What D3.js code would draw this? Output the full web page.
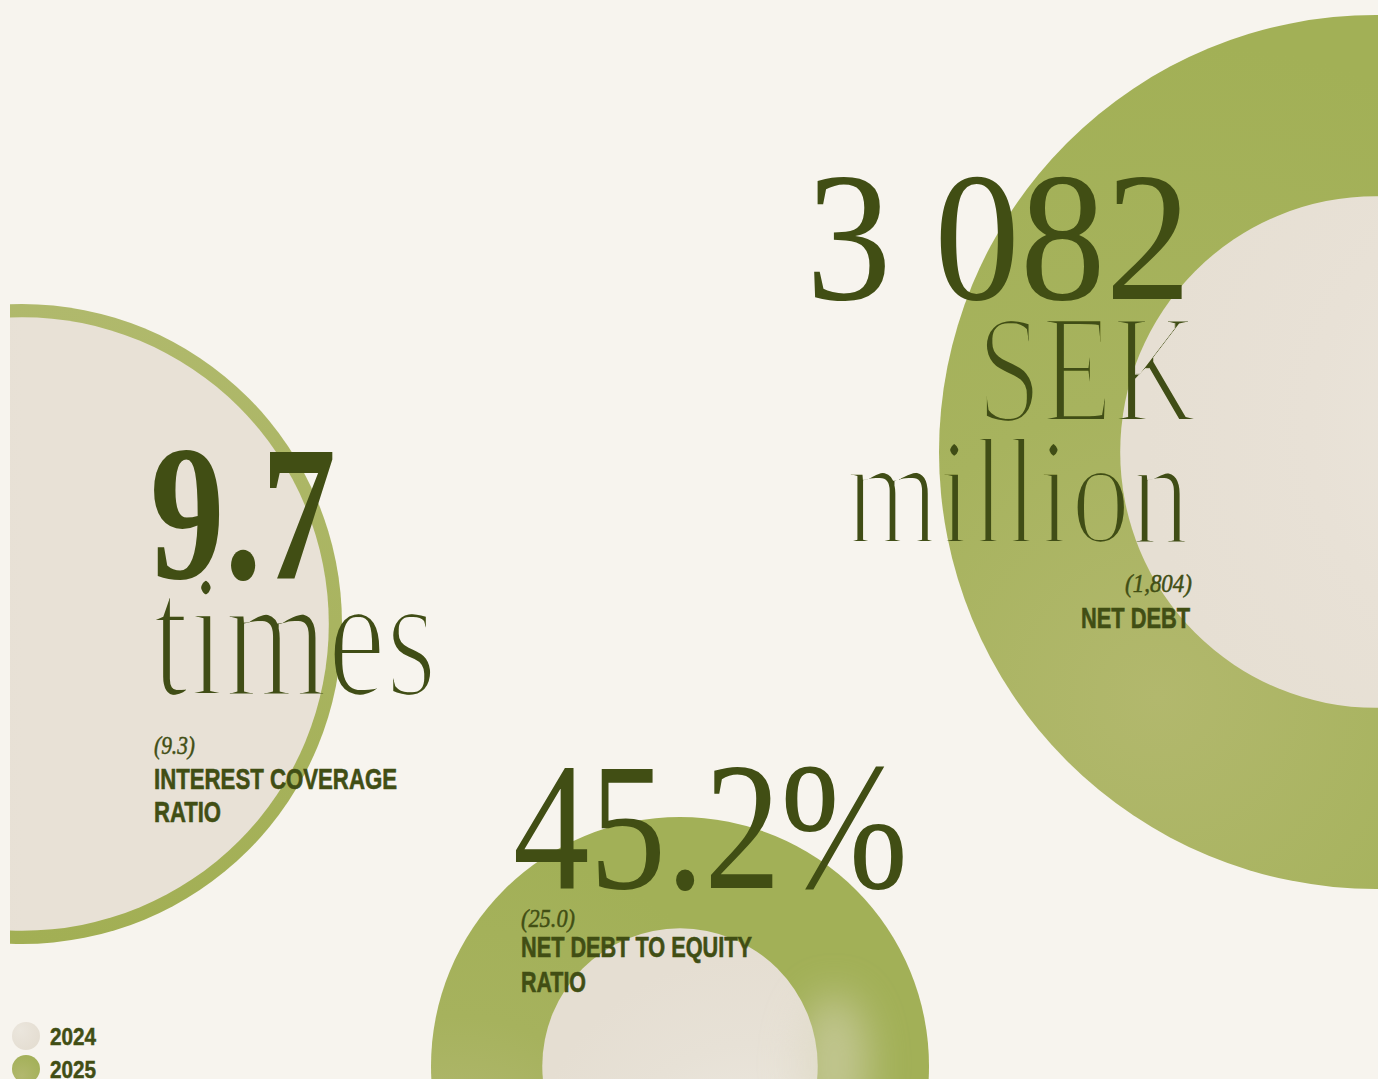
<!DOCTYPE html>
<html>
<head>
<meta charset="utf-8">
<script src="https://cdn.jsdelivr.net/npm/d3@7"></script>
<style>
  html, body { margin: 0; padding: 0; background: #f7f4ee; overflow: hidden; }
  svg { display: block; }
</style>
</head>
<body>
<svg id="chart"></svg>
<script>
// ---------- DATA ----------
const metrics      = ["Interest coverage ratio", "Net debt to equity ratio", "Net debt"];
const values2025   = [9.7, 45.2, 3082];
const values2024   = [9.3, 25.0, 1804];
const bigLabels    = ["9.7", "45.2%", "3 082"];
const unitLabels   = [["times"], [], ["SEK", "million"]];
const priorLabels  = ["(9.3)", "(25.0)", "(1,804)"];
const titleLabels  = [["INTEREST COVERAGE", "RATIO"], ["NET DEBT TO EQUITY", "RATIO"], ["NET DEBT"]];
const legendYears  = ["2024", "2025"];

// ---------- LAYOUT ----------
const W = 1378, H = 1079;
const INK = "#414e14";
const BG = "#f7f4ee";
const SERIF = "'Liberation Serif', 'Times New Roman', serif";
const SANS = "'Liberation Sans', Arial, Helvetica, sans-serif";

const circles = [
  { cx: 22,   cy: 624,  R: 320, outline: true },
  { cx: 680,  cy: 1066, R: 249 },
  { cx: 1376, cy: 452,  R: 437 }
];

const textLayout = [
  { big:   { x: 150, y: 578, len: 186, size: 192, weight: 700 },
    units: [{ x: 152, y: 695, len: 285, size: 176 }],
    prior: { x: 154, y: 754, len: 41 },
    title: [{ x: 154, y: 789, len: 243 }, { x: 154, y: 822, len: 67 }] },
  { big:   { x: 513, y: 888, len: 395, size: 183, weight: 400 },
    units: [],
    prior: { x: 521, y: 927, len: 54 },
    title: [{ x: 521, y: 957, len: 231 }, { x: 521, y: 992, len: 65 }] },
  { big:   { x: 806, y: 299, len: 385, size: 185, weight: 400 },
    units: [{ x: 977, y: 421, len: 220, size: 154 }, { x: 846, y: 543, len: 344, size: 152 }],
    prior: { x: 1125, y: 592, len: 67 },
    title: [{ x: 1081, y: 628, len: 109 }] }
];

// ---------- SVG ----------
const svg = d3.select("#chart").attr("width", W).attr("height", H);
const defs = svg.append("defs");

function radial(id, cx, cy, r, stops) {
  const g = defs.append("radialGradient").attr("id", id)
    .attr("cx", cx).attr("cy", cy).attr("r", r);
  stops.forEach(s => g.append("stop").attr("offset", s[0]).attr("stop-color", s[1]));
}
function linear(id, x1, y1, x2, y2, stops) {
  const g = defs.append("linearGradient").attr("id", id)
    .attr("x1", x1).attr("y1", y1).attr("x2", x2).attr("y2", y2);
  stops.forEach(s => g.append("stop").attr("offset", s[0]).attr("stop-color", s[1]));
}

radial("greenR", 0.25, 0.78, 0.75, [[0, "#b2b86d"], [0.45, "#a7b35e"], [1, "#a2b056"]]);
radial("greenB", 0.05, 0.75, 0.7,  [[0, "#b6ba77"], [0.5, "#a6b25d"], [1, "#a2b057"]]);
radial("beigeR", 0.85, 0.45, 0.8,  [[0, "#ece7de"], [0.6, "#e8e1d6"], [1, "#e6dfd3"]]);
radial("beigeB", 0.75, 0.9, 0.8,   [[0, "#eeeae2"], [0.6, "#e7e1d6"], [1, "#e5ded2"]]);
linear("beigeL", 0, 0, 1, 0, [[0, "#d8d4b3"], [0.25, "#e4dfd0"], [0.5, "#e8e1d6"], [1, "#e8e1d6"]]);
linear("greenL", 0, 0, 0, 1, [[0, "#b0b96c"], [1, "#a2af54"]]);
radial("legG", 0.35, 0.75, 0.8, [[0, "#b2b86e"], [1, "#a3b058"]]);
radial("legB", 0.3, 0.3, 0.8, [[0, "#ebe6dd"], [1, "#e4ddd1"]]);

defs.append("clipPath").attr("id", "clipLeft")
  .append("rect").attr("x", 10).attr("y", 0).attr("width", W).attr("height", H);

const blur = defs.append("filter").attr("id", "soft").attr("x", "-80%").attr("y", "-80%").attr("width", "260%").attr("height", "260%");
blur.append("feGaussianBlur").attr("stdDeviation", 20);

const thin = defs.append("filter").attr("id", "thin").attr("x", "-5%").attr("y", "-5%").attr("width", "110%").attr("height", "110%");
thin.append("feMorphology").attr("operator", "erode").attr("radius", 1.6);

svg.append("rect").attr("width", W).attr("height", H).attr("fill", BG);

// ---------- CIRCLES ----------
const fills = [
  { outer: "url(#greenL)", inner: "url(#beigeL)" },
  { outer: "url(#greenB)", inner: "url(#beigeB)" },
  { outer: "url(#greenR)", inner: "url(#beigeR)" }
];

metrics.forEach((m, i) => {
  const c = circles[i];
  const r = d3.scaleLinear().domain([0, values2025[i]]).range([0, c.R]);
  const g = svg.append("g").attr("class", "metric");
  if (c.outline) g.attr("clip-path", "url(#clipLeft)");
  g.append("circle").attr("cx", c.cx).attr("cy", c.cy).attr("r", r(values2025[i]))
    .attr("fill", fills[i].outer);
  g.append("circle").attr("cx", c.cx).attr("cy", c.cy).attr("r", r(values2024[i]))
    .attr("fill", fills[i].inner);
  if (i === 1) {
    const ri = r(values2024[i]);
    g.append("ellipse")
      .attr("cx", c.cx + ri * 1.12).attr("cy", c.cy - ri * 0.02)
      .attr("rx", 34).attr("ry", 70)
      .attr("fill", "#dcd8c0").attr("opacity", 0.55)
      .attr("filter", "url(#soft)");
  }
});

// ---------- TEXT ----------
metrics.forEach((m, i) => {
  const L = textLayout[i];
  const g = svg.append("g").attr("fill", INK);

  g.append("text")
    .attr("x", L.big.x).attr("y", L.big.y)
    .attr("font-family", SERIF).attr("font-size", L.big.size).attr("font-weight", L.big.weight)
    .attr("textLength", L.big.len).attr("lengthAdjust", "spacingAndGlyphs")
    .text(bigLabels[i]);

  unitLabels[i].forEach((u, k) => {
    const p = L.units[k];
    g.append("text")
      .attr("x", p.x).attr("y", p.y)
      .attr("font-family", SERIF).attr("font-size", p.size)
      .attr("textLength", p.len).attr("lengthAdjust", "spacingAndGlyphs")
      .attr("filter", "url(#thin)")
      .text(u);
  });

  g.append("text")
    .attr("x", L.prior.x).attr("y", L.prior.y)
    .attr("font-family", SERIF).attr("font-style", "italic").attr("font-size", 25)
    .attr("stroke", INK).attr("stroke-width", 0.5)
    .attr("textLength", L.prior.len).attr("lengthAdjust", "spacingAndGlyphs")
    .text(priorLabels[i]);

  titleLabels[i].forEach((t, k) => {
    const p = L.title[k];
    g.append("text")
      .attr("x", p.x).attr("y", p.y)
      .attr("font-family", SANS).attr("font-weight", 700).attr("font-size", 29)
      .attr("stroke", INK).attr("stroke-width", 0.6)
      .attr("textLength", p.len).attr("lengthAdjust", "spacingAndGlyphs")
      .text(t);
  });
});

// ---------- LEGEND ----------
const legend = svg.append("g").attr("class", "legend");
const legFill = ["url(#legB)", "url(#legG)"];
const legY = d3.scalePoint().domain(legendYears).range([1036, 1069]);
legend.selectAll("circle").data(legendYears).join("circle")
  .attr("cx", 26).attr("cy", d => legY(d)).attr("r", 14)
  .attr("fill", (d, i) => legFill[i]);
legend.selectAll("text").data(legendYears).join("text")
  .attr("x", 50).attr("y", d => legY(d) + 9)
  .attr("font-family", SANS).attr("font-weight", 700).attr("font-size", 24)
  .attr("stroke", INK).attr("stroke-width", 0.5)
  .attr("textLength", 46).attr("lengthAdjust", "spacingAndGlyphs")
  .attr("fill", INK)
  .text(d => d);
</script>
</body>
</html>
